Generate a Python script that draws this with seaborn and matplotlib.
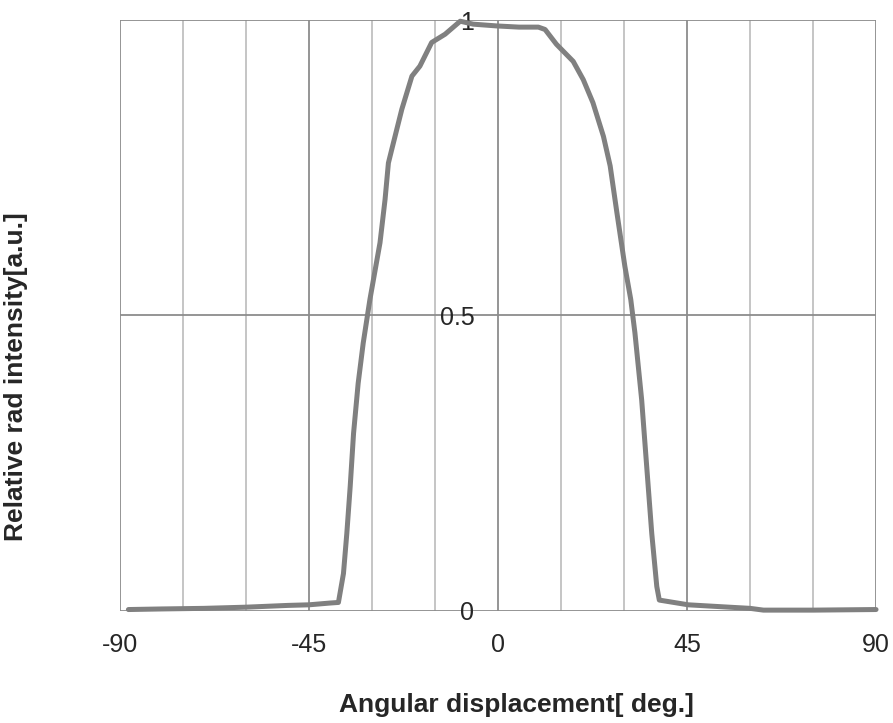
import numpy as np
import pandas as pd
import matplotlib
matplotlib.use("Agg")
import matplotlib.pyplot as plt
from matplotlib.ticker import MultipleLocator, FixedLocator
import seaborn as sns

# beam profile
angle = [-88, -80, -70, -60, -50, -45, -40, -38, -36.8, -36, -35.2, -34.4,
         -33.3, -32.1, -30.5, -28.1, -26.9, -26.1, -25.3, -22.9, -20.5, -18.6,
         -15.8, -12.6, -9.0, -5.9, -0.3, 5, 9.6, 11.2, 13.9, 17.9, 20.3, 22.6,
         25.1, 26.7, 28.3, 30.2, 31.6, 32.6, 34.2, 35.4, 36.6, 37.8, 38.4,
         45.3, 55, 60, 63.2, 75, 90]
intensity = [0.002, 0.003, 0.004, 0.006, 0.009, 0.010, 0.013, 0.014, 0.063,
             0.131, 0.21, 0.30, 0.385, 0.453, 0.527, 0.623, 0.696, 0.758,
             0.781, 0.849, 0.905, 0.922, 0.962, 0.976, 0.998, 0.993, 0.990,
             0.988, 0.988, 0.984, 0.959, 0.930, 0.899, 0.860, 0.803, 0.753,
             0.674, 0.583, 0.527, 0.47, 0.357, 0.244, 0.131, 0.041, 0.018,
             0.010, 0.006, 0.004, 0.001, 0.001, 0.002]

x_ticks = [-90, -45, 0, 45, 90]
y_ticks = [0, 0.5, 1]

df = pd.DataFrame({"angle": angle, "intensity": intensity})

sns.set_style("white")
plt.rcParams["font.family"] = ["Liberation Sans", "DejaVu Sans"]
plt.rcParams["axes.unicode_minus"] = False

fig = plt.figure(figsize=(8.93, 7.23), dpi=100)
ax = fig.add_axes([0.1344, 0.1553, 0.8466, 0.8170])

sns.lineplot(data=df, x="angle", y="intensity", color="#808080",
             linewidth=3.6, ax=ax, clip_on=False)

ax.set_xlim(-90, 90)
ax.set_ylim(0, 1)
ax.xaxis.set_major_locator(FixedLocator(x_ticks))
ax.xaxis.set_minor_locator(MultipleLocator(15))
ax.yaxis.set_major_locator(FixedLocator(y_ticks))
ax.set_yticklabels(["0", "0.5", "1"])

ax.grid(which="major", color="#8c8c8c", linewidth=1.3)
ax.grid(which="minor", axis="x", color="#c0c0c0", linewidth=1.3)
ax.set_axisbelow(True)

for side in ["top", "right", "bottom", "left"]:
    ax.spines[side].set_visible(False)
ax.spines["left"].set_position(("data", 0))

ax.tick_params(axis="x", which="both", length=0, pad=16, labelsize=18)
ax.tick_params(axis="y", which="both", length=0, pad=17, labelsize=18)

ax.set_xlabel("Angular displacement[ deg.]", fontsize=19, fontweight="bold")
ax.set_ylabel("Relative rad intensity[a.u.]", fontsize=19, fontweight="bold")
ax.xaxis.set_label_coords(0.525, -0.139)
ax.yaxis.set_label_coords(-0.122, 0.396)

fig.savefig("out.png", dpi=100)
